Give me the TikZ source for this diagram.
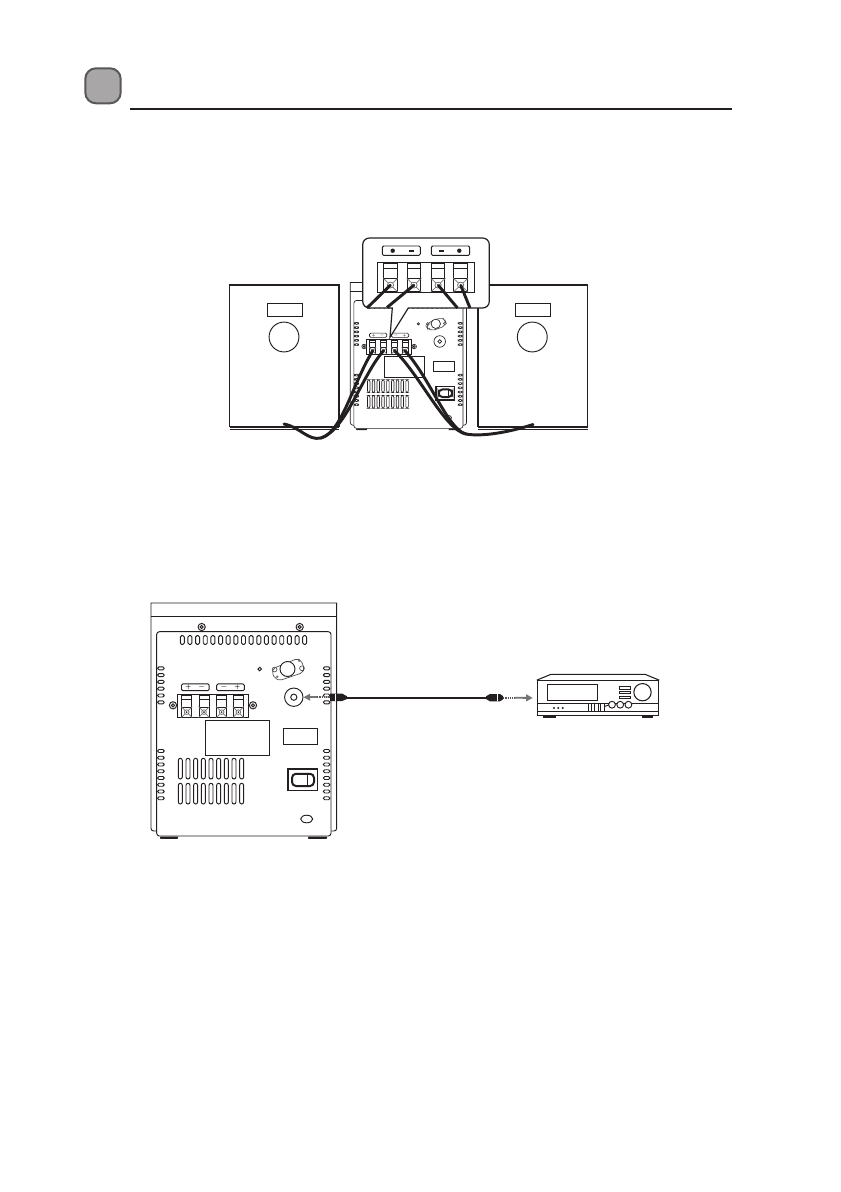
\documentclass[tikz,border=0pt]{standalone}
\usepackage{amsmath}
\usetikzlibrary{arrows.meta, positioning, calc}

\definecolor{badgefill}{HTML}{A8A6A6}
\definecolor{badgeline}{HTML}{58585A}
\definecolor{inkblack}{HTML}{231F20}
\definecolor{signalgray}{HTML}{757575}

\tikzset{
    ink/.style={draw=inkblack, line width=0.7pt},
    heavy/.style={draw=inkblack, line width=1.3pt},
    unitline/.style={draw=inkblack, line width=0.7pt},
    termsq/.style={unitline, fill=white, minimum size=7.5pt, inner sep=0pt, transform shape},
    wire/.style={draw=inkblack, line width=2.2pt, line cap=round},
    signal/.style={draw=signalgray, line width=1.4pt, -{Triangle[length=5pt, width=5pt]}},
    cable/.style={draw=inkblack, line width=1.4pt},
    metaltip/.style={draw=inkblack!75, line width=1.8pt, dash pattern=on 1pt off 0.7pt},
    plugbody/.style={fill=inkblack, draw=none},
    signlabel/.style={font=\fontsize{3.8}{4}\selectfont\bfseries, inner sep=0pt, transform shape}
}

% four speaker terminals, origin at the top left of the block
\newcommand{\termblock}[2]{
    \begin{scope}[#2]
        \draw[unitline, fill=white] (0,0) rectangle (71.7,23.4);
        \foreach \i/\tx in {1/9.7, 2/27, 3/44.7, 4/61.3} {
            \draw[unitline] (\tx-5,0.7) rectangle (\tx+5,12.7);
            \draw[unitline] (\tx-5,4.7) -- (\tx+5,4.7);
            \node[termsq] (#1-t\i) at (\tx,17.8) {};
            \draw[draw=signalgray, line width=0.5pt] (#1-t\i.north west) -- (#1-t\i.south east);
            \draw[draw=signalgray, line width=0.5pt] (#1-t\i.north east) -- (#1-t\i.south west);
            \draw[draw=inkblack!70, line width=0.5pt, fill=white] (\tx,17.8) circle (2.3);
            \fill[inkblack] (\tx,17.8) circle (0.9);
        }
    \end{scope}
}

% rear of the main unit, drawn at the size of the lower picture
\newcommand{\backunit}[2]{
    \begin{scope}[#2]
        \draw[unitline, fill=white] (156.7,831) [rounded corners=2pt] -- (151,831) [sharp corners] -- (151,603) -- (336.7,603) [rounded corners=2pt] -- (336.7,831) -- (331,831);
        \draw[unitline] (151,616.7) -- (336.7,616.7);
        \draw[unitline, fill=white, rounded corners=2pt] (156.7,631.7) rectangle (331,836);
        \fill[inkblack, rounded corners=0.5pt] (160,836.5) rectangle (178,838.8);
        \fill[inkblack, rounded corners=0.5pt] (308,836.5) rectangle (327,838.8);
        % screws
        \foreach \sx/\sy in {201.7/627, 299.7/627, 173/705.3, 253/705.3} {
            \draw[unitline] (\sx,\sy) circle (3.6);
            \draw[unitline] (\sx,\sy) circle (1.6);
        }
        % slots
        \foreach \i in {0,...,16}
            \draw[unitline, rounded corners=1pt] (180.3+\i*7.65,635.7) rectangle ++(4,8.6);
        \foreach \i in {0,...,5} {
            \draw[unitline, rounded corners=1pt] (157.7,666.8+\i*6.8) rectangle ++(6.5,3);
            \draw[unitline, rounded corners=1pt] (323.4,666.8+\i*6.8) rectangle ++(6.5,3);
        }
        \foreach \i in {0,...,7} {
            \draw[unitline, rounded corners=1pt] (157.7,749.5+\i*6.75) rectangle ++(6.5,3);
            \draw[unitline, rounded corners=1pt] (323.4,749.5+\i*6.75) rectangle ++(6.5,3);
        }
        \foreach \i in {0,...,8} {
            \draw[unitline, rounded corners=1.5pt] (178.3+\i*7.67,758.3) rectangle ++(4,20.7);
            \draw[unitline, rounded corners=1.5pt] (178.3+\i*7.67,783.3) rectangle ++(4,20.7);
        }
        % mounting plate
        \draw[unitline] (259.7,669) circle (1.8);
        \draw[draw=inkblack!80, line width=0.5pt, rounded corners=4pt] (270.5,669.5) -- (276.7,681.5) -- (305.5,671.7) -- (300,657.5) -- cycle;
        \draw[unitline, fill=white] (287.5,669) circle (7.5);
        \draw[draw=inkblack!80, line width=0.5pt] (274.6,669.5) circle (2.4);
        \draw[draw=inkblack!80, line width=0.5pt] (302,668.3) circle (2.4);
        \fill[signalgray] (277.3,676.7) circle (1.4);
        \fill[signalgray] (299.3,660.7) circle (1.4);
        % signs over the terminals
        \draw[unitline, rounded corners=1pt] (181.5,683.9) rectangle (209.2,690.7);
        \draw[unitline, rounded corners=1pt] (216.7,683.9) rectangle (244.3,690.7);
        \node[signlabel] (#1-s1) at (188.3,687.3) {+};
        \node[signlabel] (#1-s2) at (201.7,687.3) {$-$};
        \node[signlabel] (#1-s3) at (224,687.3) {$-$};
        \node[signlabel] (#1-s4) at (237.3,687.3) {+};
        \termblock{#1}{shift={(177,694.3)}}
        % line in jack
        \node[circle, unitline, fill=white, minimum size=13.8pt, inner sep=0pt, transform shape] (#1-jack) at (293.8,697.2) {};
        \draw[unitline] (#1-jack.center) circle (3.1);
        \draw[unitline] (205.3,720.7) rectangle (269.3,755.3);
        \draw[unitline] (283.3,728.3) rectangle (317.3,744.7);
        % power switch
        \draw[draw=inkblack, line width=0.9pt] (288,769) rectangle (317.7,790.7);
        \draw[draw=inkblack, line width=1.5pt, fill=white, rounded corners=3pt] (292,773.8) rectangle (314,786);
        \draw[draw=inkblack, line width=0.5pt] (307.5,774) -- (307.5,786);
        \draw[unitline] (306.7,819) ellipse (6 and 3.8);
    \end{scope}
}

\newcommand{\speaker}[2]{
    \draw[heavy, fill=white] (#2,427) -- (#2,285) -- (#2+109.7,285) -- (#2+109.7,427);
    \draw[heavy] (#2,427) -- (#2+109.7,427);
    \draw[ink] (#2,429.3) -- (#2+109.7,429.3);
    \node[draw=inkblack, line width=0.7pt, minimum width=26.2pt, minimum height=9.7pt, inner sep=0pt] (#1-badge) at (#2+55,309.5) {};
    \node[circle, draw=inkblack, line width=0.7pt, minimum size=22.4pt, inner sep=0pt] (#1-cone) at (#2+54.5,337) {};
}

\begin{document}
\begin{tikzpicture}[x=0.75pt, y=-0.75pt]
    \useasboundingbox (0,0) rectangle (840,1192);

    % section heading
    \draw[badgeline, fill=badgefill, line width=1.5pt, rounded corners=8pt] (85.3,68.3) rectangle (120.7,103.3);
    \draw[draw=inkblack, line width=1.5pt] (130,109.3) -- (732,109.3);

    % upper picture
    \backunit{small}{shift={(255.8,-95)}, scale=0.626, unitline/.style={draw=inkblack, line width=0.5pt}}
    \speaker{spkleft}{229.5}
    \speaker{spkright}{477.8}

    \draw[draw=inkblack, line width=0.9pt, fill=white, rounded corners=5pt]
        (362.7,238) -- (489.3,238) -- (489.3,308) [sharp corners] -- (408.3,308) -- (390,337.3) -- (392.3,308) [rounded corners=5pt] -- (362.7,308) -- cycle;
    \draw[unitline, rounded corners=1pt] (382.3,246) rectangle (420.3,255.3);
    \draw[unitline, rounded corners=1pt] (431.3,246) rectangle (469.7,255.3);
    \fill[inkblack] (392.7,250.7) circle (2.2);
    \fill[inkblack] (409,249.7) rectangle (413.5,251.7);
    \fill[inkblack] (439,249.7) rectangle (443.5,251.7);
    \fill[inkblack] (459.3,250.7) circle (2.2);
    \termblock{zoom}{shift={(377.3,262.3)}, xscale=1.36, yscale=1.28}

    \coordinate (zoomout1) at (367,308);
    \coordinate (zoomout2) at (387,307.5);
    \coordinate (zoomout3) at (457.5,308);
    \coordinate (zoomout4) at (470,308);
    \draw[wire, line cap=butt] (zoom-t1.center) -- (zoomout1);
    \draw[wire, line cap=butt] (zoom-t2.center) -- (zoomout2);
    \draw[wire, line cap=butt] (zoom-t3.center) -- (zoomout3);
    \draw[wire, line cap=butt] (zoom-t4.center) -- (zoomout4);

    \coordinate (coneleft) at (284,424);
    \coordinate (coneright) at (533,424.5);
    \draw[wire] (small-t1.center) .. controls (352,385) and (342,432) .. (321,438) .. controls (308,441) and (300,427) .. (coneleft);
    \draw[wire] (small-t2.center) .. controls (362,375) and (346,430) .. (321,438);
    \draw[wire] (small-t3.center) .. controls (420,375) and (445,430) .. (466,434) .. controls (482,437) and (510,432) .. (coneright);
    \draw[wire] (small-t4.center) .. controls (430,378) and (448,430) .. (466,434);

    % lower picture
    \backunit{big}{}

    \coordinate (plugin) at (317,697.2);
    \coordinate (plugfar) at (490,697.7);
    \coordinate (plugnear) at (346,697.7);
    \coordinate (plugtip) at (515,697.7);
    \node[draw=inkblack, line width=0.8pt, minimum width=91pt, minimum height=26pt, inner sep=0pt] (recv) at (598,698) {};

    \draw[signal] (plugin) -- (big-jack.east);
    \draw[signal, shorten >=3pt] (plugtip) -- (recv.west);
    \draw[cable] (plugnear) -- (plugfar);
    \draw[metaltip] (plugin) -- ++(13,0);
    \draw[metaltip] (503,697.7) -- (plugtip);
    \fill[plugbody] (330,693.5) -- (342,693.5) -- (347,696.3) -- (347,699) -- (342,701) -- (330,701) -- cycle;
    \fill[plugbody] (486,696.3) -- (490,694) -- (500,694) -- (503,696) -- (503,699.4) -- (500,701.3) -- (490,701.3) -- (486,699) -- cycle;
    \draw[draw=white, line width=0.4pt] (335,693.5) -- (335,701);
    \draw[draw=white, line width=0.4pt] (497,694) -- (497,701.3);

    % receiver
    \draw[draw=inkblack, line width=0.8pt, line join=round] (recv.north west) -- (551,674.3) -- (645,674.3) -- (recv.north east);
    \draw[draw=inkblack, line width=1pt] (recv.west |- 0,703.5) -- (recv.east |- 0,703.5);
    \draw[ink] (recv.west |- 0,711.3) -- (recv.east |- 0,711.3);
    \draw[ink] (547.3,684) rectangle (597.7,700);
    \foreach \by/\bh in {686.3/2.7, 691.3/2.4, 696/2.7}
        \draw[ink] (619.3,\by) rectangle (630,\by+\bh);
    \node[circle, draw=inkblack, line width=0.8pt, minimum size=13pt, inner sep=0pt] (recvknob) at (642.5,692.2) {};
    \foreach \dx in {554,558.3,562.7}
        \fill[inkblack] (\dx,708) circle (1.1);
    \foreach \bx in {588,594.8,600.8}
        \draw[ink, fill=white] (\bx,703.2) rectangle (\bx+3.4,711);
    \draw[ink] (604.2,706.5) -- (609,705);
    \foreach \cx in {612,620.2,628.4}
        \draw[ink, fill=white] (\cx,704.7) circle (3.4);
    \fill[inkblack] (543,715) rectangle (556,717.5);
    \fill[inkblack] (641.7,715) rectangle (653,717.5);
\end{tikzpicture}
\end{document}
